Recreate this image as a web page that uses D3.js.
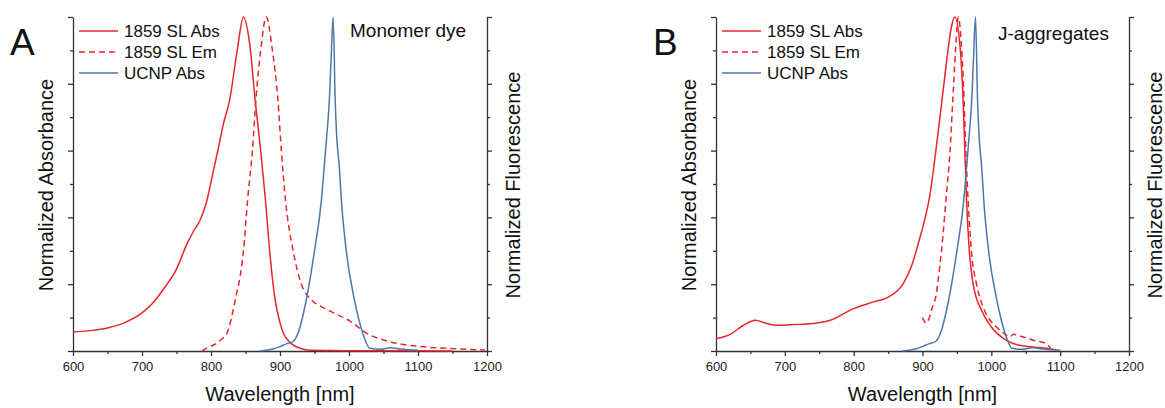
<!DOCTYPE html>
<html lang="en">
<head>
  <meta charset="UTF-8">
  <title>1859 SL spectra</title>
  <style>
    body { margin: 0; background: #fff; }
    svg text { font-family: "Liberation Sans", Arial, sans-serif; fill: #111; }
    .axis path, .axis line { stroke: #333; stroke-width: 1.3; }
    .axis text { font-size: 13px; fill: #222; }
  </style>
</head>
<body>
  <svg id="chart" width="1165" height="408"></svg>

  <script src="https://d3js.org/d3.v7.min.js"></script>
  <script>
    // wavelength [nm], normalized value
    const absMonomer = [[600,0.057],[625,0.061],[650,0.069],[675,0.085],[700,0.114],[715,0.142],[731,0.185],[750,0.245],
      [765,0.320],[775,0.360],[785,0.395],[794,0.450],[802,0.525],[810,0.601],[818,0.68],[827,0.751],[838,0.90],[847,1.0],
      [856,0.92],[864,0.751],[872,0.60],[879,0.451],[885,0.30],[893,0.152],[900,0.085],[905,0.053],[915,0.025],[929,0.008],
      [945,0.002],[1000,0.001],[1100,0.001],[1150,0]];
    const emMonomer = [[787,0],[795,0.01],[808,0.023],[815,0.035],[823,0.053],[835,0.152],[847,0.30],[853,0.451],[860,0.60],
      [865,0.751],[872,0.90],[880,1.0],[889,0.90],[897,0.751],[902,0.60],[908,0.451],[919,0.30],[931,0.20],[946,0.152],
      [960,0.133],[972,0.12],[1001,0.09],[1028,0.05],[1050,0.033],[1069,0.023],[1100,0.014],[1141,0.008],[1197,0.003]];
    const ucnpAbs = [[871,0],[890,0.006],[900,0.013],[910,0.022],[915,0.025],[920,0.03],[926,0.053],[938,0.152],[950,0.30],
      [960,0.451],[964,0.55],[968,0.65],[971.5,0.75],[974,0.87],[977,1.0],[980,0.75],[982,0.65],[986,0.55],[989,0.451],
      [996,0.30],[1008,0.152],[1020,0.053],[1030,0.008],[1045,0.005],[1060,0.01],[1075,0.006],[1100,0.002]];
    const absJagg = [[600,0.037],[620,0.049],[640,0.077],[657,0.092],[671,0.084],[688,0.077],[713,0.079],[747,0.084],
      [766,0.092],[800,0.127],[829,0.147],[851,0.162],[872,0.202],[885,0.26],[895,0.33],[904,0.40],[911,0.47],[917,0.56],
      [923,0.66],[930,0.78],[937,0.90],[942,0.97],[947,1.0],[955,0.90],[959,0.75],[961.5,0.60],[964,0.451],[968,0.30],
      [973.6,0.20],[985.7,0.122],[1000,0.072],[1022,0.032],[1041,0.017],[1080,0.008],[1095,0.003]];
    const emJagg = [[900,0.10],[905,0.084],[910,0.10],[913,0.122],[920,0.17],[925,0.252],[930,0.352],[934,0.451],[940,0.60],
      [944,0.75],[948,0.90],[952,1.0],[957,0.90],[960.5,0.75],[963,0.60],[966.3,0.451],[971,0.30],[978.5,0.20],[990.5,0.12],
      [1007.5,0.072],[1020,0.05],[1027,0.042],[1032,0.05],[1041,0.045],[1050,0.04],[1061,0.032],[1080,0.022],[1087,0.005]];

    const xMajor = [600, 700, 800, 900, 1000, 1100, 1200];
    const xMinor = [650, 750, 850, 950, 1050, 1150];
    const yMajor = [0, 0.2, 0.4, 0.6, 0.8, 1.0];
    const yMinor = [0.1, 0.3, 0.5, 0.7, 0.9];
    const legendLabels = ['1859 SL Abs', '1859 SL Em', 'UCNP Abs'];

    const red = '#e8262b';
    const blue = '#4f77ac';

    const svg = d3.select('#chart');

    function drawPanel(p) {
      const x = d3.scaleLinear().domain([600, 1200]).range([p.left, p.right]);
      const y = d3.scaleLinear().domain([0, 1]).range([351, 17]);
      const g = svg.append('g');

      // axes
      g.append('g').attr('class', 'axis').attr('transform', 'translate(0,351)')
        .call(d3.axisBottom(x).tickValues(xMinor).tickSize(3).tickSizeOuter(0).tickFormat(''))
        .select('.domain').remove();
      g.append('g').attr('class', 'axis').attr('transform', 'translate(0,351)')
        .call(d3.axisBottom(x).tickValues(xMajor).tickSize(5).tickSizeOuter(0).tickPadding(6).tickFormat(d3.format('d')));

      g.append('g').attr('class', 'axis').attr('transform', `translate(${p.left},0)`)
        .call(d3.axisLeft(y).tickValues(yMinor).tickSize(3).tickSizeOuter(0).tickFormat(''))
        .select('.domain').remove();
      g.append('g').attr('class', 'axis').attr('transform', `translate(${p.left},0)`)
        .call(d3.axisLeft(y).tickValues(yMajor).tickSize(5).tickSizeOuter(0).tickFormat(''));

      g.append('g').attr('class', 'axis').attr('transform', `translate(${p.right},0)`)
        .call(d3.axisRight(y).tickValues(yMinor).tickSize(3).tickSizeOuter(0).tickFormat(''))
        .select('.domain').remove();
      g.append('g').attr('class', 'axis').attr('transform', `translate(${p.right},0)`)
        .call(d3.axisRight(y).tickValues(yMajor).tickSize(5).tickSizeOuter(0).tickFormat(''));

      // curves
      const line = d3.line().x(d => x(d[0])).y(d => y(d[1])).curve(d3.curveMonotoneX);
      const series = [
        { data: p.abs, color: red, dash: null },
        { data: p.em, color: red, dash: '6,4' },
        { data: ucnpAbs, color: blue, dash: null }
      ];
      series.forEach(s => {
        g.append('path')
          .datum(s.data)
          .attr('d', line)
          .attr('fill', 'none')
          .attr('stroke', s.color)
          .attr('stroke-width', 1.5)
          .attr('stroke-dasharray', s.dash);
      });

      // legend
      series.forEach((s, i) => {
        const ly = 31 + i * 21;
        g.append('line')
          .attr('x1', p.left + 6).attr('x2', p.left + 45)
          .attr('y1', ly).attr('y2', ly)
          .attr('stroke', s.color).attr('stroke-width', 1.5)
          .attr('stroke-dasharray', s.dash);
        g.append('text')
          .attr('x', p.left + 51).attr('y', ly + 6)
          .style('font-size', '17px')
          .text(legendLabels[i]);
      });

      // titles
      const mid = (p.left + p.right) / 2;
      g.append('text')
        .attr('x', mid).attr('y', 401)
        .attr('text-anchor', 'middle')
        .style('font-size', '20px')
        .text('Wavelength [nm]');
      g.append('text')
        .attr('transform', `translate(${p.left - 20},185) rotate(-90)`)
        .attr('text-anchor', 'middle')
        .style('font-size', '20px')
        .text('Normalized Absorbance');
      g.append('text')
        .attr('transform', `translate(${p.right + 33},185) rotate(-90)`)
        .attr('text-anchor', 'middle')
        .style('font-size', '20px')
        .text('Normalized Fluorescence');

      g.append('text')
        .attr('x', p.left - 63).attr('y', 55)
        .style('font-size', '37px')
        .text(p.letter);
      g.append('text')
        .attr('x', p.noteX).attr('y', p.noteY)
        .style('font-size', '19px')
        .text(p.note);
    }

    drawPanel({ left: 73, right: 487, abs: absMonomer, em: emMonomer, letter: 'A',
      note: 'Monomer dye', noteX: 350, noteY: 37 });
    drawPanel({ left: 716, right: 1129, abs: absJagg, em: emJagg, letter: 'B',
      note: 'J-aggregates', noteX: 998, noteY: 40 });
  </script>
</body>
</html>
